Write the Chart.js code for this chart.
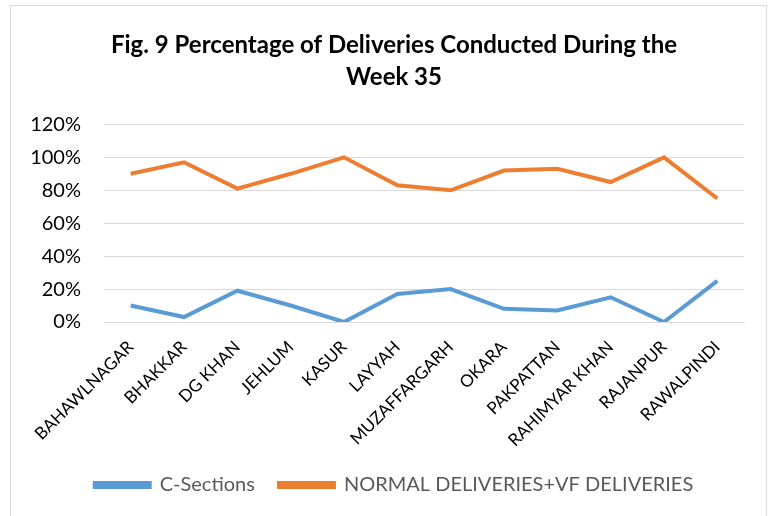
<!DOCTYPE html>
<html>
<head>
<meta charset="utf-8">
<script src="https://cdn.jsdelivr.net/npm/chart.js@4"></script>
<style>
  html, body { margin: 0; padding: 0; background: #fff; }
  #wrap { position: relative; width: 773px; height: 516px; }
  #frame { position: absolute; left: 10px; top: 5px; width: 757px; height: 520px; border: 1px solid #d9d9d9; box-sizing: border-box; }
  canvas { position: absolute; left: 0; top: 0; }
</style>
</head>
<body>
<div id="wrap">
  <div id="frame"></div>
  <canvas id="lineChart" width="773" height="516"></canvas>
</div>
<script>
// Data
const districts = ['BAHAWLNAGAR', 'BHAKKAR', 'DG KHAN', 'JEHLUM', 'KASUR', 'LAYYAH', 'MUZAFFARGARH', 'OKARA', 'PAKPATTAN', 'RAHIMYAR KHAN', 'RAJANPUR', 'RAWALPINDI'];
const cSections = [10, 3, 19, 10, 0, 17, 20, 8, 7, 15, 0, 25];
const normalDeliveries = [90, 97, 81, 90, 100, 83, 80, 92, 93, 85, 100, 75];
const yTicks = [0, 20, 40, 60, 80, 100, 120];

const fontFamily = 'Lato, "Open Sans", sans-serif';

// title and legend sit a bit right of the canvas centre in the original
const shiftBoxes = {
  id: 'shiftBoxes',
  afterLayout(chart) {
    for (const box of [chart.titleBlock, chart.legend]) {
      box.left += 17;
      box.right += 17;
    }
  }
};

const ctx = document.getElementById('lineChart').getContext('2d');
const chart = new Chart(ctx, {
  type: 'line',
  data: {
    labels: districts,
    datasets: [{
      label: 'C-Sections',
      data: cSections,
      borderColor: '#5B9BD5',
      backgroundColor: '#5B9BD5',
      borderWidth: 4,
      pointRadius: 0,
      tension: 0
    }, {
      label: 'NORMAL DELIVERIES+VF DELIVERIES',
      data: normalDeliveries,
      borderColor: '#ED7D31',
      backgroundColor: '#ED7D31',
      borderWidth: 4,
      pointRadius: 0,
      tension: 0
    }]
  },
  plugins: [shiftBoxes],
  options: {
    responsive: false,
    animation: false,
    layout: { padding: { left: 10, right: 29, top: 0, bottom: 11 } },
    plugins: {
      title: {
        display: true,
        text: ['Fig. 9 Percentage of Deliveries Conducted During the', 'Week 35'],
        color: '#000',
        font: { family: fontFamily, size: 24, weight: 'bold', lineHeight: 1.3 },
        padding: { top: 30, bottom: 32 }
      },
      legend: {
        display: true,
        position: 'bottom',
        labels: {
          color: '#595959',
          font: { family: fontFamily, size: 20 },
          boxWidth: 55,
          boxHeight: 4,
          padding: 24
        }
      },
      tooltip: { enabled: false }
    },
    scales: {
      x: {
        offset: true,
        grid: { display: false, drawTicks: false },
        border: { color: '#d9d9d9' },
        ticks: {
          color: '#000',
          font: { family: fontFamily, size: 17 },
          minRotation: 45,
          maxRotation: 45,
          autoSkip: false,
          padding: 15
        },
        afterFit: (scale) => { scale.height = 129; }
      },
      y: {
        min: 0,
        max: 120,
        afterBuildTicks: (scale) => { scale.ticks = yTicks.map(v => ({ value: v })); },
        grid: { color: '#d9d9d9', lineWidth: 1, drawTicks: false },
        border: { display: false },
        ticks: {
          color: '#000',
          font: { family: fontFamily, size: 20 },
          padding: 23,
          callback: (v) => v + '%'
        },
        afterFit: (scale) => { scale.width = 94; }
      }
    }
  }
});
</script>
</body>
</html>
